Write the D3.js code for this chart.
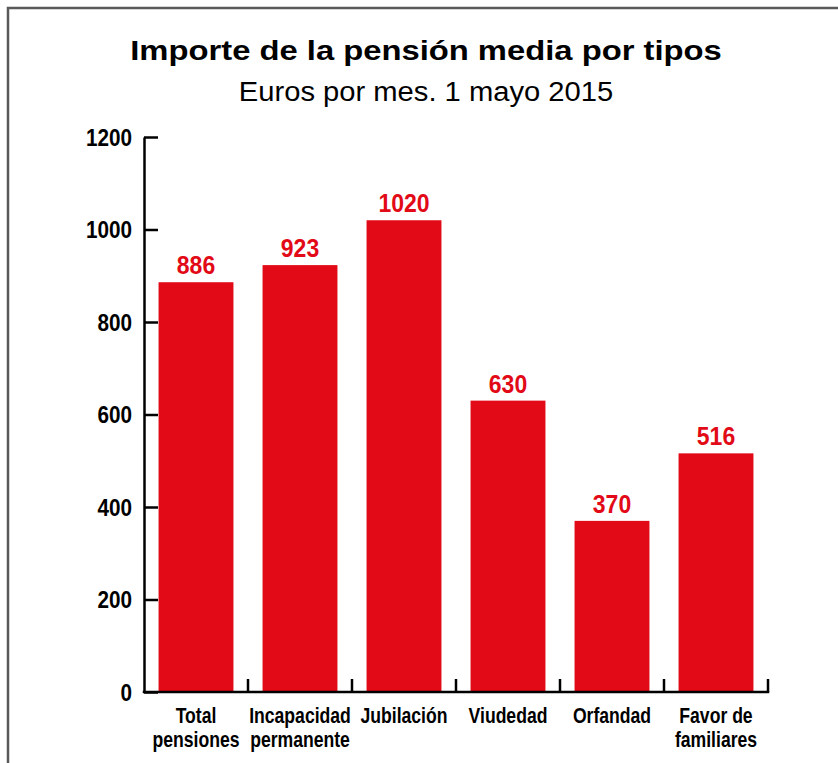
<!DOCTYPE html>
<html>
<head>
<meta charset="utf-8">
<script src="https://cdn.jsdelivr.net/npm/d3@7"></script>
<style>
    body { margin: 0; background: #fff; }
    svg { display: block; }
</style>
</head>
<body>
<div id="chart"></div>
<script>
// data
var categories = ['Total pensiones', 'Incapacidad permanente', 'Jubilación', 'Viudedad', 'Orfandad', 'Favor de familiares'];
var catLines = [['Total', 'pensiones'], ['Incapacidad', 'permanente'], ['Jubilación'], ['Viudedad'], ['Orfandad'], ['Favor de', 'familiares']];
var values = [886, 923, 1020, 630, 370, 516];
var yTicks = [0, 200, 400, 600, 800, 1000, 1200];

var barColor = '#e20a16';
var font = '"Liberation Sans", Arial, sans-serif';

var width = 838, height = 763;
var margin = { top: 137, right: 70, bottom: 71, left: 144 };

var svg = d3.select('#chart').append('svg')
    .attr('width', width)
    .attr('height', height);

svg.append('rect')
    .attr('width', width).attr('height', height)
    .attr('fill', '#fff');

// frame (cut off on the right and bottom)
svg.append('rect')
    .attr('x', 8).attr('y', 8)
    .attr('width', 1000).attr('height', 1000)
    .attr('fill', 'none')
    .attr('stroke', '#5a5a5a')
    .attr('stroke-width', 2.5);

// title - the original face is wider than Arial, so stretch a bit
svg.append('text')
    .attr('transform', 'translate(426,60) scale(1.17,1)')
    .attr('text-anchor', 'middle')
    .style('font-family', font)
    .style('font-weight', 'bold')
    .style('font-size', '28px')
    .attr('fill', '#000')
    .text('Importe de la pensión media por tipos');

svg.append('text')
    .attr('transform', 'translate(426,101) scale(1.08,1)')
    .attr('text-anchor', 'middle')
    .style('font-family', font)
    .style('font-size', '27px')
    .attr('fill', '#000')
    .text('Euros por mes. 1 mayo 2015');

var xScale = d3.scaleBand()
    .domain(categories)
    .range([margin.left, width - margin.right])
    .padding(0);

var yScale = d3.scaleLinear()
    .domain([0, 1200])
    .range([height - margin.bottom, margin.top]);

var barW = xScale.bandwidth() * 0.72;

// bars
svg.selectAll('rect.bar')
    .data(values)
    .enter().append('rect')
    .attr('class', 'bar')
    .attr('x', function (d, i) { return xScale(categories[i]) + (xScale.bandwidth() - barW) / 2; })
    .attr('y', function (d) { return yScale(d); })
    .attr('width', barW)
    .attr('height', function (d) { return yScale(0) - yScale(d); })
    .attr('fill', barColor);

// value labels (condensed look)
svg.selectAll('text.val')
    .data(values)
    .enter().append('text')
    .attr('class', 'val')
    .attr('transform', function (d, i) {
        return 'translate(' + (xScale(categories[i]) + xScale.bandwidth() / 2) + ',' + (yScale(d) - 8) + ') scale(0.92,1)';
    })
    .attr('text-anchor', 'middle')
    .style('font-family', font)
    .style('font-weight', 'bold')
    .style('font-size', '25px')
    .attr('fill', barColor)
    .text(function (d) { return d; });

// y axis
var yAxis = svg.append('g')
    .attr('transform', 'translate(' + margin.left + ',0)')
    .call(d3.axisLeft(yScale).tickValues(yTicks).tickFormat(d3.format('d'))
        .tickSizeInner(-14).tickSizeOuter(0).tickPadding(12));

yAxis.select('.domain').attr('stroke', '#000').attr('stroke-width', 2.5);
yAxis.selectAll('.tick line').attr('stroke', '#000').attr('stroke-width', 2.5);
yAxis.selectAll('.tick text')
    .attr('x', 0)
    .attr('dy', '0.36em')
    .attr('transform', 'translate(-12,0) scale(0.9,1)')
    .style('font-family', font)
    .style('font-weight', 'bold')
    .style('font-size', '23px')
    .attr('fill', '#000');

// x axis
var y0 = yScale(0);
svg.append('line')
    .attr('x1', margin.left).attr('x2', xScale.range()[1])
    .attr('y1', y0).attr('y2', y0)
    .attr('stroke', '#000')
    .attr('stroke-width', 2.5)
    .attr('stroke-linecap', 'square');

svg.selectAll('line.xtick')
    .data(categories)
    .enter().append('line')
    .attr('class', 'xtick')
    .attr('x1', function (d) { return xScale(d) + xScale.bandwidth(); })
    .attr('x2', function (d) { return xScale(d) + xScale.bandwidth(); })
    .attr('y1', y0).attr('y2', y0 - 13)
    .attr('stroke', '#000')
    .attr('stroke-width', 2.5);

var catText = svg.selectAll('text.cat')
    .data(categories)
    .enter().append('text')
    .attr('class', 'cat')
    .attr('transform', function (d) {
        return 'translate(' + (xScale(d) + xScale.bandwidth() / 2) + ',' + (y0 + 31) + ') scale(0.8,1)';
    })
    .attr('text-anchor', 'middle')
    .style('font-family', font)
    .style('font-weight', 'bold')
    .style('font-size', '22px')
    .attr('fill', '#000');

catText.selectAll('tspan')
    .data(function (d, i) { return catLines[i]; })
    .enter().append('tspan')
    .attr('x', 0)
    .attr('y', function (d, j) { return j * 24; })
    .text(function (d) { return d; });
</script>
</body>
</html>
